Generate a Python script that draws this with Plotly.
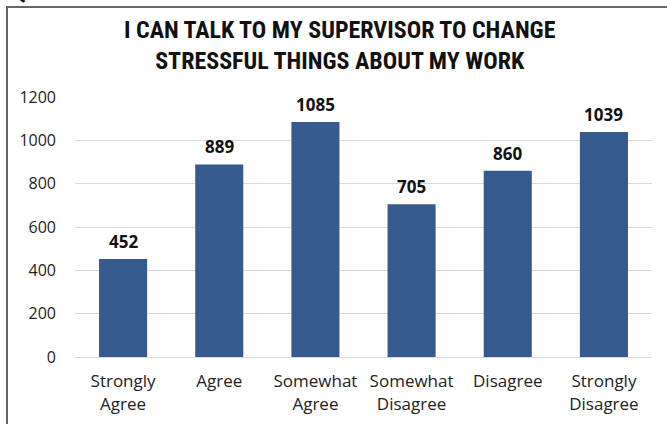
import plotly.graph_objects as go

categories = ["Strongly<br>Agree", "Agree", "Somewhat<br>Agree", "Somewhat<br>Disagree", "Disagree", "Strongly<br>Disagree"]
values = [452, 889, 1085, 705, 860, 1039]
y_ticks = [0, 200, 400, 600, 800, 1000, 1200]

title_text = "I CAN TALK TO MY SUPERVISOR TO CHANGE<br>STRESSFUL THINGS ABOUT MY WORK"

W, H = 667, 424
L, R, T, B = 75, 15, 97, 67
pw, ph = W - L - R, H - T - B

def px(x):
    return (x - L) / pw

def py(y):
    return 1 + (T - y) / ph

fig = go.Figure()
fig.add_trace(go.Bar(
    x=categories, y=values,
    marker=dict(color="#375a8c", line=dict(width=0)),
    hoverinfo="x+y",
))

annotations = []
for c, v in zip(categories, values):
    annotations.append(dict(
        x=c, y=v, xref="x", yref="y", text="<b>%d</b>" % v, showarrow=False,
        yanchor="bottom", yshift=4,
        font=dict(family="Open Sans, Noto Sans, sans-serif", size=17, color="#111111"),
    ))
annotations.append(dict(
    x=px(340), y=py(45), xref="paper", yref="paper", text="<b>" + title_text + "</b>",
    showarrow=False, xanchor="center", yanchor="middle",
    font=dict(family="Liberation Sans Narrow, Roboto Condensed, Roboto, sans-serif", size=24, color="#111111"),
))
annotations.append(dict(
    x=px(8), y=py(8), xref="paper", yref="paper", text="<b>QUESTION 5</b>",
    showarrow=False, xanchor="left", yanchor="bottom",
    font=dict(family="Liberation Sans Narrow, Roboto, sans-serif", size=24, color="#111111"),
))

shapes = [
    dict(type="line", xref="paper", yref="paper", x0=px(7), x1=px(7), y0=py(7), y1=py(440),
         line=dict(color="#666666", width=2)),
    dict(type="line", xref="paper", yref="paper", x0=px(6), x1=px(680), y0=py(7), y1=py(7),
         line=dict(color="#666666", width=2)),
]

fig.update_layout(
    width=W, height=H,
    margin=dict(l=L, r=R, t=T, b=B, pad=0, autoexpand=False),
    paper_bgcolor="white", plot_bgcolor="white",
    bargap=0.5,
    showlegend=False,
    annotations=annotations,
    shapes=shapes,
    font=dict(family="Open Sans, Noto Sans, sans-serif", size=16, color="#222222"),
    xaxis=dict(showline=True, linecolor="#d9d9d9", linewidth=1, ticks="", showgrid=False,
               tickfont=dict(size=17), fixedrange=True, automargin=False),
    yaxis=dict(range=[0, 1200], tickvals=y_ticks, showgrid=True, gridcolor="#d9d9d9",
               gridwidth=1, zeroline=False, showline=False, ticks="", ticklen=0,
               tickfont=dict(size=16), fixedrange=True, automargin=False),
)
fig.layout.yaxis.ticklabelstandoff = 18
fig.layout.xaxis.ticklabelstandoff = 9

fig.write_html("out.html", config={"displayModeBar": False},
               post_script="document.body.style.margin='0';document.body.style.overflow='hidden';")
